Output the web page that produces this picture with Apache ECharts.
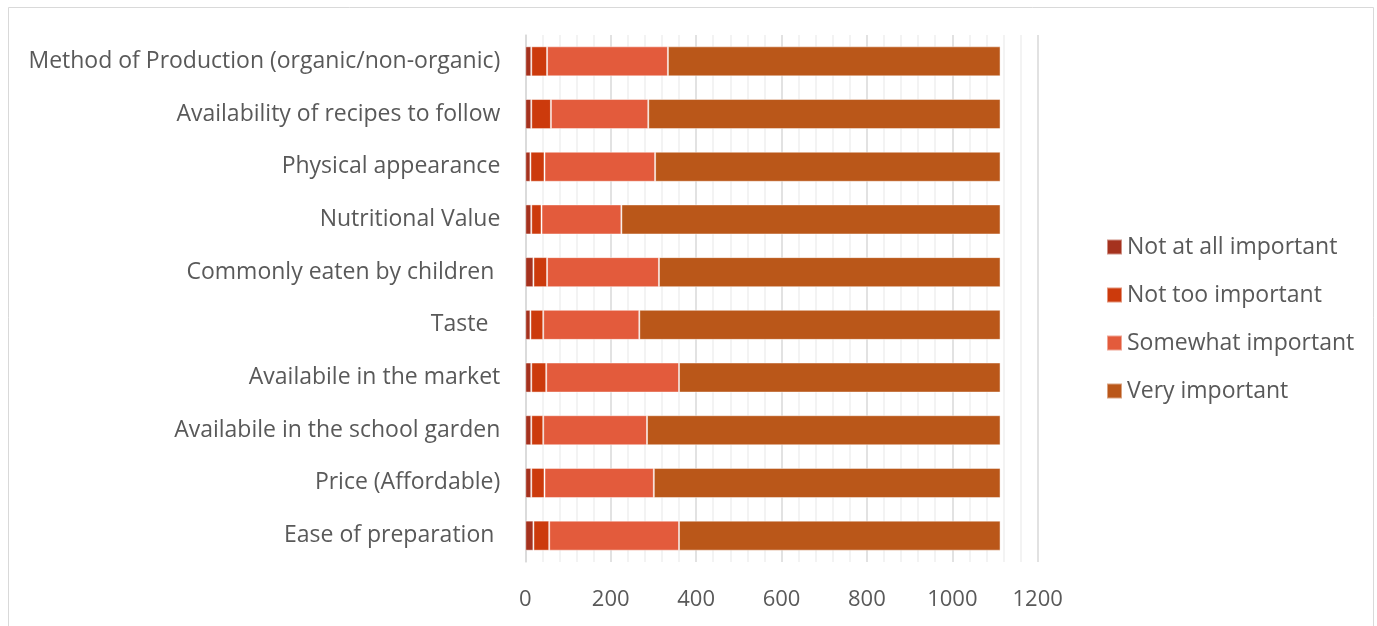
<!DOCTYPE html>
<html>
<head>
<meta charset="utf-8">
<script src="https://cdn.jsdelivr.net/npm/echarts@6/dist/echarts.min.js"></script>
<style>
  html, body { margin: 0; padding: 0; background: #fff; }
  #chart { width: 1377px; height: 626px; }
</style>
</head>
<body>
<div id="chart"></div>
<script>
// Factors rated by respondents, listed bottom to top on the category axis
const categories = [
  'Ease of preparation ',
  'Price (Affordable)',
  'Availabile in the school garden',
  'Availabile in the market',
  'Taste  ',
  'Commonly eaten by children ',
  'Nutritional Value',
  'Physical appearance',
  'Availability of recipes to follow',
  'Method of Production (organic/non-organic)'
];

const seriesNames = ['Not at all important', 'Not too important', 'Somewhat important', 'Very important'];

const notAtAllImportant = [19, 14, 14, 14, 12, 19, 14, 12, 14, 14];
const notTooImportant   = [37, 31, 28, 35, 30, 32, 24, 33, 46, 37];
const somewhatImportant = [304, 256, 243, 311, 225, 262, 187, 259, 228, 283];
const veryImportant     = [753, 812, 828, 753, 846, 800, 888, 809, 825, 779];

const xTicks = [0, 200, 400, 600, 800, 1000, 1200];

const colors = ['#A5321E', '#CC3A0C', '#E35B3C', '#BA5719'];
const textColor = '#595959';
const font = '"Open Sans", "Noto Sans", sans-serif';

const values = [notAtAllImportant, notTooImportant, somewhatImportant, veryImportant];

const chart = echarts.init(document.getElementById('chart'), null, { renderer: 'canvas' });

chart.setOption({
  backgroundColor: '#ffffff',
  animation: false,
  color: colors,
  textStyle: { fontFamily: font },
  graphic: [{
    type: 'rect',
    shape: { x: 8.5, y: 7.5, width: 1365, height: 640 },
    style: { fill: 'none', stroke: '#D9D9D9', lineWidth: 1 },
    silent: true,
    z: -10
  }],
  legend: {
    orient: 'vertical',
    left: 1106,
    top: 235.5,
    padding: 0,
    itemWidth: 15,
    itemHeight: 15,
    itemGap: 25,
    icon: 'rect',
    data: seriesNames,
    textStyle: { color: textColor, fontSize: 23, fontFamily: font }
  },
  grid: {
    left: 525.3,
    right: 339.3,
    top: 35,
    bottom: 64,
    containLabel: false
  },
  xAxis: {
    type: 'value',
    min: xTicks[0],
    max: xTicks[xTicks.length - 1],
    interval: 200,
    axisLine: { show: false },
    axisTick: { show: false },
    axisLabel: {
      color: textColor,
      fontSize: 22,
      fontFamily: font,
      margin: 27,
      formatter: (v) => String(v)
    },
    splitLine: { show: true, lineStyle: { color: '#D9D9D9', width: 1.5 } },
    minorTick: { show: false, splitNumber: 5 },
    minorSplitLine: { show: true, lineStyle: { color: '#EFEFEF', width: 1.5 } }
  },
  yAxis: {
    type: 'category',
    data: categories,
    axisLine: { show: true, lineStyle: { color: '#D9D9D9', width: 1.5 } },
    axisTick: { show: false },
    axisLabel: {
      color: textColor,
      fontSize: 23,
      fontFamily: font,
      margin: 25,
      padding: [4, 0, 0, 0]
    }
  },
  series: seriesNames.map((name, i) => ({
    name: name,
    type: 'bar',
    stack: 'total',
    barCategoryGap: '43%',
    data: values[i],
    itemStyle: {
      color: colors[i],
      borderColor: 'rgba(255,255,255,0.45)',
      borderWidth: 1
    }
  }))
});
</script>
</body>
</html>
